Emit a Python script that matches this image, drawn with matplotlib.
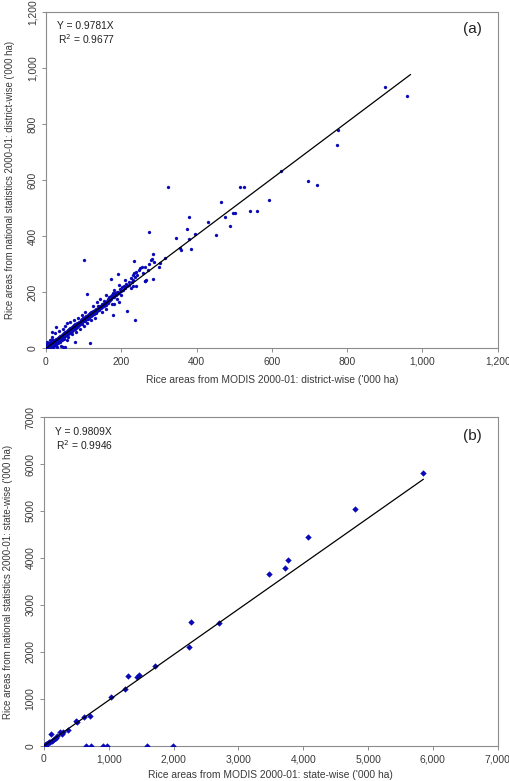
import matplotlib
matplotlib.use("Agg")
import matplotlib.pyplot as plt
from matplotlib.ticker import FuncFormatter

plt.rcParams['font.family'] = ['Liberation Sans', 'DejaVu Sans']

# district-wise scatter, panel (a): MODIS ('000 ha) vs national statistics ('000 ha)
distrito_x = [2, 3, 4, 5, 6, 7, 8, 9, 10, 11, 12, 13, 14, 15, 16, 17, 18, 19, 20, 21,
              22, 23, 24, 25, 26, 27, 28, 29, 30, 31, 32, 33, 34, 35, 36, 37, 38, 39, 40, 41,
              42, 43, 44, 45, 46, 47, 48, 49, 50, 51, 52, 53, 54, 55, 56, 57, 58, 59, 60, 61,
              62, 63, 64, 65, 66, 67, 68, 69, 70, 71, 72, 73, 74, 75, 76, 77, 78, 79, 80, 82,
              83, 84, 85, 86, 88, 89, 90, 91, 92, 93, 94, 95, 96, 97, 98, 99, 100, 102, 103, 104,
              105, 106, 107, 108, 110, 111, 112, 113, 114, 115, 116, 118, 119, 120, 121, 122, 124, 125, 126, 128,
              129, 130, 132, 133, 134, 136, 137, 138, 140, 141, 142, 144, 146, 148, 149, 150, 152, 154, 155, 157,
              158, 160, 162, 164, 165, 167, 168, 170, 172, 173, 175, 177, 178, 180, 182, 184, 186, 188, 190, 192,
              195, 198, 200, 203, 205, 208, 210, 214, 216, 220, 222, 226, 228, 230, 232, 234, 236, 240, 242, 246,
              250, 255, 258, 263, 265, 270, 275,
              20, 30, 40, 55, 60, 70, 80, 90, 100, 110, 120, 130, 150, 160, 175, 190, 200, 225,
              10, 15, 25, 35, 45, 50, 55, 65, 75, 85, 95, 105, 125, 135, 145, 160, 180, 195, 210,
              5, 8, 12, 18, 22, 28, 33, 38, 44, 48, 1, 3, 6, 14,
              900, 960, 776, 772, 625, 696, 719, 592, 561, 541, 516, 527, 325, 464, 496, 503,
              475, 488, 453, 431, 379, 374, 380, 397, 346, 385, 356, 360, 275, 100, 285, 282,
              279, 286, 315, 300, 302, 284, 235, 230, 238, 262, 262, 192, 172, 177, 195, 181,
              215, 236, 178, 110, 118, 78, 46, 52, 17, 28]
distrito_y = [3, 8, 2, 12, 5, 15, 4, 20, 9, 14, 6, 18, 25, 10, 13, 22, 8, 16, 28, 19,
              12, 24, 30, 15, 21, 35, 18, 27, 32, 22, 38, 28, 25, 40, 33, 30, 45, 36, 28, 42,
              38, 48, 35, 44, 52, 40, 47, 55, 43, 50, 58, 46, 53, 62, 49, 56, 65, 52, 60, 57,
              68, 55, 63, 72, 60, 66, 75, 62, 70, 65, 78, 68, 73, 82, 70, 77, 86, 72, 80, 75,
              90, 82, 78, 88, 94, 84, 92, 86, 100, 90, 96, 88, 104, 94, 100, 110, 96, 106, 98, 112,
              102, 108, 116, 104, 112, 120, 106, 115, 124, 110, 118, 126, 114, 122, 130, 118, 128, 121, 134, 124,
              132, 138, 128, 136, 142, 132, 140, 150, 136, 146, 140, 152, 144, 158, 150, 146, 160, 152, 168, 158,
              164, 156, 170, 162, 176, 168, 182, 172, 186, 178, 190, 182, 194, 188, 184, 196, 190, 200, 194, 202,
              198, 212, 206, 218, 210, 224, 216, 230, 222, 236, 228, 250, 238, 262, 224, 268, 256, 274, 262, 280,
              288, 292, 270, 240, 245, 280, 300,
              2, 5, 10, 30, 40, 52, 60, 70, 78, 92, 100, 110, 130, 142, 160, 176, 190, 215,
              30, 40, 55, 62, 70, 80, 90, 95, 100, 110, 120, 130, 150, 165, 175, 190, 210, 225, 245,
              1, 0, 3, 4, 10, 12, 20, 24, 30, 34, 14, 22, 20, 30,
              935, 903, 781, 727, 634, 598, 585, 529, 490, 491, 578, 578, 578, 522, 482, 482,
              470, 436, 404, 451, 469, 425, 392, 409, 393, 356, 359, 350, 417, 316, 336, 320,
              316, 310, 321, 289, 305, 248, 311, 244, 221, 240, 290, 264, 248, 198, 164, 159,
              135, 102, 118, 194, 18, 24, 4, 4, 60, 77]

# state-wise scatter, panel (b)
estado_x = [5850, 4804, 4072, 3768, 3716, 3469, 2696, 2263, 2242, 1711, 1474, 1443, 1299, 1258,
            1031, 716, 613, 495, 505, 366, 294, 283, 247, 103,
            10, 25, 40, 55, 70, 85, 100, 120, 140, 160, 180, 200,
            10, 650, 722, 918, 974, 1598, 1990]
estado_y = [5815, 5043, 4440, 3957, 3794, 3660, 2610, 2645, 2113, 1702, 1518, 1461, 1489, 1213,
            1050, 645, 617, 532, 504, 340, 305, 248, 291, 248,
            5, 15, 30, 45, 60, 75, 85, 100, 130, 150, 170, 200,
            0, 0, 0, 0, 0, 0, 0]

# trend lines as drawn in the figure (end points)
tendencia_a_x = [0, 968]
tendencia_a_y = [0, 978]
tendencia_b_x = [0, 5851]
tendencia_b_y = [0, 5674]

ticks_a = [0, 200, 400, 600, 800, 1000, 1200]
ticks_b = [0, 1000, 2000, 3000, 4000, 5000, 6000, 7000]

azul = '#0808b8'
cinza = '#8c8c8c'
texto = '#3a3a3a'
fs = 7.4

comma = FuncFormatter(lambda v, p: '{:,.0f}'.format(v))
plain = FuncFormatter(lambda v, p: '{:.0f}'.format(v))

fig = plt.figure(figsize=(5.10, 7.81), dpi=100)
ax1 = fig.add_axes([0.090, 0.554, 0.886, 0.430])
ax2 = fig.add_axes([0.086, 0.045, 0.890, 0.421])


def estilo(ax):
    for s in ax.spines.values():
        s.set_color(cinza)
        s.set_linewidth(0.8)
    ax.tick_params(axis='both', direction='out', length=3, width=0.7, color=cinza,
                   labelsize=fs, labelcolor=texto, pad=3)
    ax.tick_params(top=False, right=False)
    for lab in ax.get_yticklabels():
        lab.set_rotation(90)
        lab.set_va('center')


# painel (a)
ax1.plot(distrito_x, distrito_y, linestyle='none', marker='o', markersize=2.2,
         color=azul, markeredgewidth=0.2, zorder=3)
ax1.plot(tendencia_a_x, tendencia_a_y, color='black', linewidth=0.9, zorder=4)
ax1.set_xlim(0, 1200)
ax1.set_ylim(0, 1200)
ax1.set_xticks(ticks_a)
ax1.set_yticks(ticks_a)
ax1.xaxis.set_major_formatter(comma)
ax1.yaxis.set_major_formatter(comma)
estilo(ax1)
ax1.set_xlabel("Rice areas from MODIS 2000-01: district-wise ('000 ha)", fontsize=fs,
               color=texto, labelpad=6)
ax1.set_ylabel("Rice areas from national statistics 2000-01: district-wise ('000 ha)",
               fontsize=6.9, color=texto, labelpad=9)
ax1.text(0.024, 0.95, 'Y = 0.9781X', transform=ax1.transAxes, fontsize=fs, color='#222222')
ax1.text(0.027, 0.905, 'R$^2$ = 0.9677', transform=ax1.transAxes, fontsize=fs, color='#222222')
ax1.text(0.965, 0.94, '(a)', transform=ax1.transAxes, fontsize=11, ha='right', color='#222222')

# painel (b)
ax2.plot(estado_x, estado_y, linestyle='none', marker='D', markersize=2.9,
         color=azul, markeredgewidth=0.3, zorder=3)
ax2.plot(tendencia_b_x, tendencia_b_y, color='black', linewidth=0.9, zorder=4)
ax2.set_xlim(0, 7000)
ax2.set_ylim(0, 7000)
ax2.set_xticks(ticks_b)
ax2.set_yticks(ticks_b)
ax2.xaxis.set_major_formatter(comma)
ax2.yaxis.set_major_formatter(plain)
estilo(ax2)
ax2.set_xlabel("Rice areas from MODIS 2000-01: state-wise ('000 ha)", fontsize=fs,
               color=texto, labelpad=4)
ax2.set_ylabel("Rice areas from national statistics 2000-01: state-wise ('000 ha)",
               fontsize=7.0, color=texto, labelpad=9)
ax2.text(0.024, 0.945, 'Y = 0.9809X', transform=ax2.transAxes, fontsize=fs, color='#222222')
ax2.text(0.027, 0.9, 'R$^2$ = 0.9946', transform=ax2.transAxes, fontsize=fs, color='#222222')
ax2.text(0.965, 0.93, '(b)', transform=ax2.transAxes, fontsize=11, ha='right', color='#222222')

fig.savefig('out.png', dpi=100)
